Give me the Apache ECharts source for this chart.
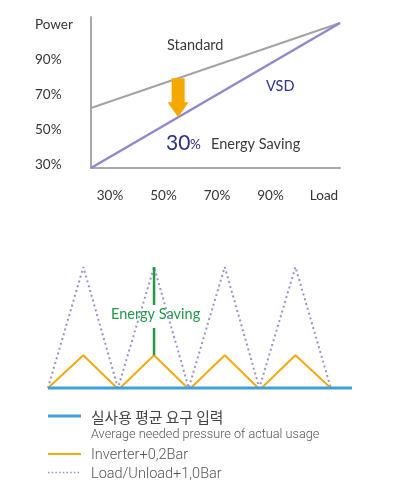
<!DOCTYPE html>
<html><head><meta charset="utf-8">
<script src="https://cdn.jsdelivr.net/npm/echarts@6/dist/echarts.min.js"></script>
<style>html,body{margin:0;padding:0;background:#fff}#c{width:398px;height:502px}</style>
</head><body><div id="c"></div>
<script>
// ---- Top chart data (axis-normalised units 0..100) ----
const powerLabels = ['30%', '50%', '70%', '90%', 'Power'];
const loadLabels = ['30%', '50%', '70%', '90%', 'Load'];
const topX = [0, 100];
const standardY = [39.7, 96];
const vsdY = [0, 96];
const arrowX = 35;
const arrowFrom = 59.4;
const arrowTo = 33.6;

// ---- Bottom chart data ----
const avgX = [0, 43];
const avgY = [0, 0];
const inverterX = [0, 5, 9.75, 10.2, 15, 19.75, 20.2, 25, 29.75, 30.2, 35, 40];
const inverterY = [0, 0.27, 0, 0, 0.27, 0, 0, 0.27, 0, 0, 0.27, 0];
const loadUnloadX = [0, 5, 9.9, 10.1, 15, 19.9, 20.1, 25, 29.9, 30.1, 35, 40];
const loadUnloadY = [0, 1, 0, 0, 1, 0, 0, 1, 0, 0, 1, 0];
const savingX = [15, 15, 15, 15, 15];
const savingY = [1, 0.686, '-', 0.496, 0.27];

const legendNames = ['실사용 평균 요구 입력', 'Average needed pressure of actual usage', 'Inverter+0,2Bar', 'Load/Unload+1,0Bar'];

const zip = (xs, ys) => xs.map((x, i) => [x, ys[i]]);
const F = 'Lato, "Open Sans", sans-serif';
const LF = 'Roboto, "Liberation Sans", sans-serif';

const chart = echarts.init(document.getElementById('c'), null, {renderer: 'canvas'});
const axisLineStyle = {color: '#a9a9a9', width: 2};
const hidden = {show: false};

function legendText(txt, x, y, size, family, weight, color) {
  return {type: 'text', x: x, y: y, style: {text: txt, fontFamily: family, fontSize: size, fontWeight: weight,
    fill: color, verticalAlign: 'middle', align: 'left'}};
}

chart.setOption({
  animation: false,
  backgroundColor: '#fff',
  grid: [
    {left: 91, top: 17, width: 249, height: 151},
    {left: 91, top: 7.5, width: 249, height: 175},
    {left: 83.25, top: 17, width: 267.5, height: 151},
    {left: 48, top: 267, width: 304, height: 121}
  ],
  xAxis: [
    {gridIndex: 0, type: 'value', min: 0, max: 100, axisLine: {show: true, lineStyle: axisLineStyle}, axisTick: hidden, axisLabel: hidden, splitLine: hidden},
    {gridIndex: 1, type: 'value', show: false},
    {gridIndex: 2, type: 'category', data: loadLabels, boundaryGap: true, axisLine: hidden, axisTick: hidden, splitLine: hidden,
      axisLabel: {margin: 28, verticalAlign: 'middle', fontFamily: F, fontSize: 13.5, color: '#333'}},
    {gridIndex: 3, type: 'value', min: 0, max: 43, show: false}
  ],
  yAxis: [
    {gridIndex: 0, type: 'value', min: 0, max: 100, axisLine: {show: true, lineStyle: axisLineStyle}, axisTick: hidden, axisLabel: hidden, splitLine: hidden},
    {gridIndex: 1, type: 'category', data: powerLabels, boundaryGap: true, axisLine: hidden, axisTick: hidden, splitLine: hidden,
      axisLabel: {margin: 56, align: 'left', fontFamily: F, fontSize: 13.5, color: '#333'}},
    {gridIndex: 2, type: 'value', show: false},
    {gridIndex: 3, type: 'value', min: 0, max: 1, show: false}
  ],
  series: [
    {type: 'line', xAxisIndex: 0, yAxisIndex: 0, data: zip(topX, standardY), symbol: 'none',
      lineStyle: {color: '#a3a3a3', width: 2}, z: 2},
    {type: 'line', xAxisIndex: 0, yAxisIndex: 0, data: zip(topX, vsdY), symbol: 'none',
      lineStyle: {color: '#9088cc', width: 2.5}, z: 3},
    {type: 'custom', xAxisIndex: 0, yAxisIndex: 0, data: [[arrowX, arrowFrom, arrowTo]], z: 4,
      renderItem: function (params, api) {
        const top = api.coord([api.value(0), api.value(1)]);
        const tip = api.coord([api.value(0), api.value(2)]);
        const x = top[0], hs = 6.5, hh = 10.5, hl = 15;
        return {type: 'polygon', shape: {points: [
          [x - hs, top[1]], [x + hs, top[1]], [x + hs, tip[1] - hl], [x + hh, tip[1] - hl],
          [x, tip[1]], [x - hh, tip[1] - hl], [x - hs, tip[1] - hl]]},
          style: {fill: '#f5a800'}};
      }},
    {type: 'line', xAxisIndex: 3, yAxisIndex: 3, data: zip(loadUnloadX, loadUnloadY), symbol: 'none', clip: false,
      lineStyle: {color: '#9a90d0', width: 2, type: [2, 3]}, z: 2},
    {type: 'line', xAxisIndex: 3, yAxisIndex: 3, data: zip(inverterX, inverterY), symbol: 'none', clip: false,
      lineStyle: {color: '#f4aa10', width: 2}, z: 3},
    {type: 'line', xAxisIndex: 3, yAxisIndex: 3, data: zip(avgX, avgY), symbol: 'none', clip: false,
      lineStyle: {color: '#3d9fdc', width: 3}, z: 4},
    {type: 'line', xAxisIndex: 3, yAxisIndex: 3, data: zip(savingX, savingY), symbol: 'none', clip: false, connectNulls: false,
      lineStyle: {color: '#1f9a46', width: 2.5}, z: 5}
  ],
  graphic: [
    {type: 'text', left: 167, top: 38, style: {text: 'Standard', fontFamily: F, fontSize: 14.5, fill: '#3a3a3a'}},
    {type: 'text', left: 266, top: 79, style: {text: 'VSD', fontFamily: F, fontSize: 14.5, fill: '#2e3192'}},
    {type: 'text', left: 166, top: 133, style: {text: '30', fontFamily: F, fontSize: 21, fill: '#2b3088'}},
    {type: 'text', left: 190, top: 138, style: {text: '%', fontFamily: F, fontSize: 13.5, fill: '#2b3088'}},
    {type: 'text', left: 211, top: 137, style: {text: 'Energy Saving', fontFamily: F, fontSize: 14.5, fill: '#3a3a3a'}},
    {type: 'text', left: 111, top: 307, style: {text: 'Energy Saving', fontFamily: F, fontSize: 14.5, fill: '#1f9a46'}},
    {type: 'line', shape: {x1: 48, y1: 416, x2: 81, y2: 416}, style: {stroke: '#3d9fdc', lineWidth: 3}},
    {type: 'line', shape: {x1: 48, y1: 454, x2: 81, y2: 454}, style: {stroke: '#f4aa10', lineWidth: 2}},
    {type: 'line', shape: {x1: 48, y1: 472.5, x2: 81, y2: 472.5}, style: {stroke: '#9a90d0', lineWidth: 1.5, lineDash: [1.5, 2.2]}},
    legendText(legendNames[0], 91, 417, 14.8, '"Noto Sans CJK KR", sans-serif', 'normal', '#444'),
    legendText(legendNames[1], 91, 435, 12.7, LF, 300, '#555'),
    legendText(legendNames[2], 91, 455, 14.5, LF, 300, '#555'),
    legendText(legendNames[3], 91, 474, 14.5, LF, 300, '#555')
  ]
});
</script>
</body></html>
